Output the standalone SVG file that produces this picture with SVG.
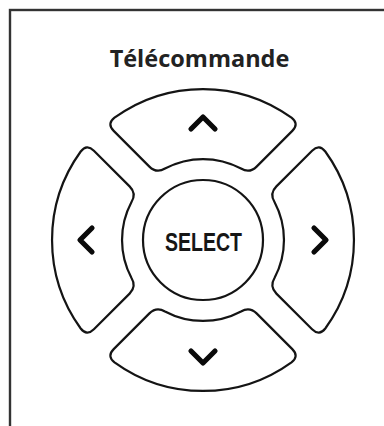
<svg xmlns="http://www.w3.org/2000/svg" width="384" height="426" viewBox="0 0 384 426">
  <defs>
    <style>
      .btn { fill: #ffffff; stroke: #141414; stroke-width: 2.2; }
      .chev { fill: none; stroke: #0a0a0a; stroke-width: 5.2; stroke-linecap: round; stroke-linejoin: round; }
      .title { font-family: "Open Sans", "Liberation Sans", sans-serif; font-weight: bold; font-size: 23.5px; fill: #222222; }
      .sel { font-family: "Liberation Sans", Arial, sans-serif; font-weight: bold; font-size: 25px; fill: #161616; }
    </style>
    <path id="pad" d="M -88.5,-122.3 A 151 151 0 0 1 88.5,-122.3 Q 96.4,-116.2 89.3,-109.1 L 53.6,-73.4 Q 46.5,-66.3 38.0,-71.5 A 81 81 0 0 0 -38.0,-71.5 Q -46.5,-66.3 -53.6,-73.4 L -89.3,-109.1 Q -96.4,-116.2 -88.5,-122.3 Z"/>
    <path id="arrow" d="M -12,-111 L 0,-123 L 12,-111"/>
  </defs>

  <rect id="frame" x="10" y="10" width="500" height="500" fill="#ffffff" stroke="#333333" stroke-width="2.4"/>

  <g id="title">
    <text class="title" x="199.5" y="66.5" text-anchor="middle">Télécommande</text>
  </g>

  <g transform="translate(203,240)">
    <g id="btn-up">
      <use href="#pad" class="btn"/>
      <use href="#arrow" class="chev"/>
    </g>
    <g id="btn-right" transform="rotate(90)">
      <use href="#pad" class="btn"/>
      <use href="#arrow" class="chev"/>
    </g>
    <g id="btn-down" transform="rotate(180)">
      <use href="#pad" class="btn"/>
      <use href="#arrow" class="chev"/>
    </g>
    <g id="btn-left" transform="rotate(-90)">
      <use href="#pad" class="btn"/>
      <use href="#arrow" class="chev"/>
    </g>
    <g id="btn-select">
      <circle cx="0" cy="0" r="60" class="btn"/>
      <text class="sel" x="0.5" y="11" text-anchor="middle" textLength="77" lengthAdjust="spacingAndGlyphs">SELECT</text>
    </g>
  </g>
</svg>
